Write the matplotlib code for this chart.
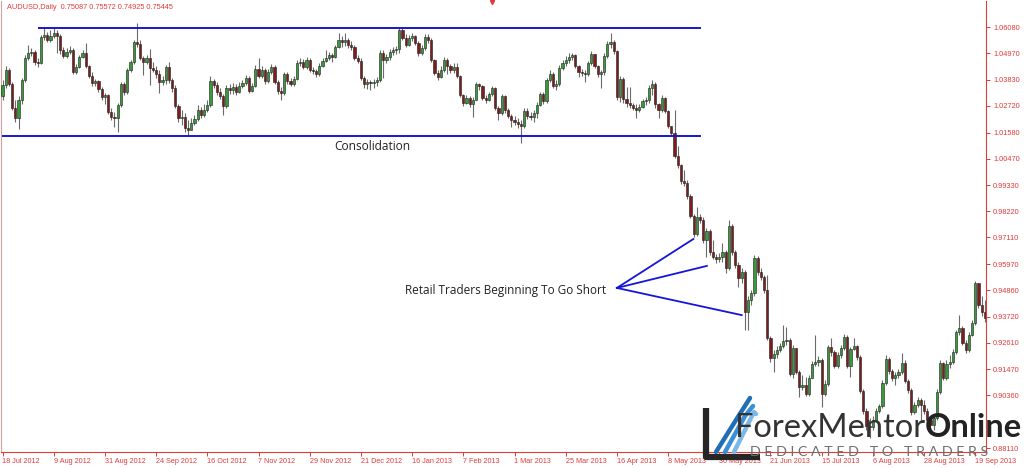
import matplotlib
matplotlib.use("Agg")
import matplotlib.pyplot as plt
import numpy as np

# AUDUSD daily, 18 Jul 2012 .. Sep 2013
first_open = 1.0315

closes = [
    1.0362, 1.0426, 1.0366, 1.0263, 1.0221, 1.0298, 1.0383, 1.0477, 1.0498, 1.0502,
    1.0460, 1.0455, 1.0567, 1.0575, 1.0554, 1.0571, 1.0584, 1.0571, 1.0511, 1.0485,
    1.0502, 1.0511, 1.0417, 1.0438, 1.0481, 1.0498, 1.0443, 1.0400, 1.0370, 1.0379,
    1.0344, 1.0310, 1.0319, 1.0246, 1.0225, 1.0221, 1.0276, 1.0366, 1.0332, 1.0426,
    1.0460, 1.0545, 1.0537, 1.0477, 1.0460, 1.0477, 1.0434, 1.0426, 1.0409, 1.0374,
    1.0383, 1.0438, 1.0383, 1.0349, 1.0272, 1.0221, 1.0225, 1.0178, 1.0169, 1.0199,
    1.0216, 1.0255, 1.0233, 1.0255, 1.0276, 1.0379, 1.0362, 1.0332, 1.0315, 1.0272,
    1.0349, 1.0340, 1.0353, 1.0332, 1.0357, 1.0370, 1.0391, 1.0336, 1.0357, 1.0430,
    1.0400, 1.0426, 1.0379, 1.0417, 1.0438, 1.0374, 1.0336, 1.0327, 1.0409, 1.0379,
    1.0366, 1.0387, 1.0455, 1.0460, 1.0438, 1.0468, 1.0426, 1.0421, 1.0409, 1.0443,
    1.0464, 1.0477, 1.0490, 1.0481, 1.0524, 1.0554, 1.0545, 1.0554, 1.0532, 1.0524,
    1.0477, 1.0464, 1.0391, 1.0366, 1.0374, 1.0370, 1.0374, 1.0383, 1.0498, 1.0468,
    1.0481, 1.0502, 1.0511, 1.0515, 1.0596, 1.0562, 1.0532, 1.0562, 1.0571, 1.0541,
    1.0498, 1.0520, 1.0567, 1.0554, 1.0468, 1.0413, 1.0396, 1.0426, 1.0468, 1.0443,
    1.0426, 1.0438, 1.0400, 1.0319, 1.0285, 1.0306, 1.0280, 1.0298, 1.0366, 1.0357,
    1.0306, 1.0298, 1.0323, 1.0349, 1.0263, 1.0242, 1.0315, 1.0255, 1.0229, 1.0212,
    1.0204, 1.0195, 1.0186, 1.0251, 1.0229, 1.0225, 1.0242, 1.0276, 1.0323, 1.0293,
    1.0383, 1.0409, 1.0357, 1.0366, 1.0434, 1.0455, 1.0468, 1.0481, 1.0490, 1.0443,
    1.0417, 1.0413, 1.0409, 1.0455, 1.0494, 1.0443, 1.0409, 1.0417, 1.0485, 1.0537,
    1.0545, 1.0507, 1.0310, 1.0387, 1.0302, 1.0285, 1.0276, 1.0263, 1.0255, 1.0268,
    1.0293, 1.0298, 1.0349, 1.0366, 1.0280, 1.0255, 1.0306, 1.0251, 1.0186, 1.0157,
    1.0058, 1.0020, 0.9952, 0.9943, 0.9888, 0.9802, 0.9725, 0.9798, 0.9785, 0.9700,
    0.9738, 0.9649, 0.9627, 0.9619, 0.9627, 0.9649, 0.9580, 0.9760, 0.9649, 0.9593,
    0.9537, 0.9563, 0.9392, 0.9444, 0.9473, 0.9623, 0.9563, 0.9542, 0.9486, 0.9281,
    0.9196, 0.9213, 0.9230, 0.9247, 0.9268, 0.9273, 0.9128, 0.9239, 0.9136, 0.9072,
    0.9081, 0.9042, 0.9110, 0.9170, 0.9179, 0.9187, 0.9042, 0.9085, 0.9243, 0.9222,
    0.9162, 0.9209, 0.9239, 0.9286, 0.9162, 0.9234, 0.9247, 0.9200, 0.9055, 0.8970,
    0.8906, 0.8901, 0.8931, 0.8970, 0.8991, 0.9089, 0.9192, 0.9140, 0.9110, 0.9123,
    0.9136, 0.9175, 0.9098, 0.9059, 0.8965, 0.8995, 0.9017, 0.8995, 0.8970, 0.8931,
    0.8910, 0.8940, 0.9051, 0.9175, 0.9110, 0.9170, 0.9179, 0.9222, 0.9307, 0.9324,
    0.9260, 0.9230, 0.9294, 0.9345, 0.9516, 0.9422, 0.9392, 0.9367,
]

highs = [
    1.0383, 1.0443, 1.0434, 1.0374, 1.0298, 1.0315, 1.0391, 1.0490, 1.0532, 1.0520,
    1.0511, 1.0477, 1.0575, 1.0609, 1.0588, 1.0596, 1.0609, 1.0596, 1.0579, 1.0524,
    1.0520, 1.0528, 1.0520, 1.0451, 1.0490, 1.0511, 1.0541, 1.0447, 1.0417, 1.0387,
    1.0383, 1.0353, 1.0327, 1.0323, 1.0263, 1.0246, 1.0285, 1.0374, 1.0374, 1.0434,
    1.0468, 1.0554, 1.0625, 1.0554, 1.0485, 1.0490, 1.0515, 1.0460, 1.0443, 1.0426,
    1.0400, 1.0447, 1.0460, 1.0391, 1.0362, 1.0280, 1.0255, 1.0242, 1.0212, 1.0221,
    1.0233, 1.0276, 1.0268, 1.0280, 1.0298, 1.0400, 1.0387, 1.0374, 1.0349, 1.0323,
    1.0362, 1.0366, 1.0370, 1.0366, 1.0374, 1.0383, 1.0404, 1.0400, 1.0370, 1.0447,
    1.0477, 1.0443, 1.0434, 1.0430, 1.0451, 1.0447, 1.0383, 1.0353, 1.0417, 1.0417,
    1.0391, 1.0400, 1.0468, 1.0477, 1.0473, 1.0481, 1.0477, 1.0438, 1.0430, 1.0455,
    1.0477, 1.0511, 1.0502, 1.0498, 1.0532, 1.0584, 1.0571, 1.0584, 1.0562, 1.0549,
    1.0532, 1.0490, 1.0477, 1.0400, 1.0387, 1.0383, 1.0387, 1.0396, 1.0511, 1.0511,
    1.0494, 1.0515, 1.0524, 1.0528, 1.0605, 1.0605, 1.0579, 1.0575, 1.0584, 1.0575,
    1.0549, 1.0532, 1.0579, 1.0579, 1.0562, 1.0473, 1.0426, 1.0443, 1.0481, 1.0477,
    1.0451, 1.0455, 1.0455, 1.0404, 1.0323, 1.0319, 1.0315, 1.0310, 1.0374, 1.0370,
    1.0362, 1.0319, 1.0332, 1.0357, 1.0353, 1.0272, 1.0323, 1.0319, 1.0263, 1.0238,
    1.0229, 1.0221, 1.0212, 1.0263, 1.0263, 1.0246, 1.0255, 1.0289, 1.0332, 1.0332,
    1.0391, 1.0426, 1.0417, 1.0383, 1.0447, 1.0468, 1.0485, 1.0498, 1.0498, 1.0494,
    1.0447, 1.0430, 1.0426, 1.0464, 1.0507, 1.0494, 1.0447, 1.0426, 1.0498, 1.0549,
    1.0584, 1.0554, 1.0511, 1.0400, 1.0396, 1.0353, 1.0353, 1.0285, 1.0280, 1.0280,
    1.0302, 1.0310, 1.0362, 1.0383, 1.0374, 1.0285, 1.0319, 1.0310, 1.0255, 1.0182,
    1.0255, 1.0101, 1.0024, 0.9999, 0.9956, 0.9896, 0.9811, 0.9841, 0.9811, 0.9798,
    0.9751, 0.9747, 0.9700, 0.9640, 0.9644, 0.9687, 0.9657, 0.9785, 0.9768, 0.9657,
    0.9606, 0.9580, 0.9572, 0.9461, 0.9486, 0.9636, 0.9631, 0.9580, 0.9550, 0.9550,
    0.9290, 0.9230, 0.9247, 0.9260, 0.9337, 0.9328, 0.9281, 0.9251, 0.9239, 0.9145,
    0.9123, 0.9115, 0.9123, 0.9183, 0.9294, 0.9204, 0.9196, 0.9102, 0.9251, 0.9281,
    0.9230, 0.9222, 0.9251, 0.9298, 0.9294, 0.9243, 0.9281, 0.9251, 0.9209, 0.9063,
    0.8982, 0.8940, 0.8948, 0.8982, 0.8999, 0.9102, 0.9209, 0.9200, 0.9149, 0.9136,
    0.9149, 0.9217, 0.9187, 0.9106, 0.9068, 0.9008, 0.9029, 0.9025, 0.9017, 0.8982,
    0.8944, 0.8952, 0.9063, 0.9187, 0.9179, 0.9187, 0.9209, 0.9234, 0.9315, 0.9379,
    0.9333, 0.9273, 0.9307, 0.9358, 0.9525, 0.9516, 0.9461, 0.9444,
]

lows = [
    1.0298, 1.0349, 1.0357, 1.0255, 1.0204, 1.0174, 1.0280, 1.0374, 1.0468, 1.0485,
    1.0447, 1.0438, 1.0451, 1.0554, 1.0545, 1.0545, 1.0562, 1.0498, 1.0494, 1.0477,
    1.0477, 1.0494, 1.0409, 1.0409, 1.0434, 1.0477, 1.0434, 1.0391, 1.0357, 1.0357,
    1.0332, 1.0298, 1.0280, 1.0238, 1.0212, 1.0182, 1.0161, 1.0268, 1.0319, 1.0323,
    1.0417, 1.0451, 1.0524, 1.0468, 1.0404, 1.0451, 1.0362, 1.0417, 1.0391, 1.0327,
    1.0362, 1.0366, 1.0370, 1.0332, 1.0263, 1.0204, 1.0191, 1.0161, 1.0148, 1.0169,
    1.0191, 1.0208, 1.0221, 1.0225, 1.0246, 1.0268, 1.0349, 1.0319, 1.0302, 1.0233,
    1.0263, 1.0323, 1.0323, 1.0319, 1.0327, 1.0349, 1.0362, 1.0327, 1.0332, 1.0353,
    1.0391, 1.0391, 1.0366, 1.0370, 1.0409, 1.0366, 1.0323, 1.0298, 1.0319, 1.0366,
    1.0357, 1.0357, 1.0383, 1.0443, 1.0430, 1.0430, 1.0417, 1.0409, 1.0396, 1.0400,
    1.0438, 1.0460, 1.0468, 1.0460, 1.0477, 1.0520, 1.0524, 1.0528, 1.0520, 1.0511,
    1.0468, 1.0455, 1.0383, 1.0349, 1.0344, 1.0340, 1.0349, 1.0357, 1.0374, 1.0391,
    1.0455, 1.0468, 1.0490, 1.0494, 1.0498, 1.0554, 1.0524, 1.0528, 1.0549, 1.0532,
    1.0485, 1.0490, 1.0511, 1.0541, 1.0460, 1.0404, 1.0383, 1.0391, 1.0417, 1.0409,
    1.0413, 1.0413, 1.0391, 1.0310, 1.0272, 1.0280, 1.0268, 1.0225, 1.0298, 1.0340,
    1.0298, 1.0285, 1.0293, 1.0315, 1.0255, 1.0212, 1.0233, 1.0242, 1.0221, 1.0182,
    1.0191, 1.0178, 1.0114, 1.0178, 1.0216, 1.0212, 1.0204, 1.0221, 1.0272, 1.0280,
    1.0285, 1.0374, 1.0349, 1.0340, 1.0357, 1.0426, 1.0443, 1.0455, 1.0468, 1.0434,
    1.0396, 1.0400, 1.0374, 1.0400, 1.0447, 1.0434, 1.0396, 1.0349, 1.0404, 1.0477,
    1.0520, 1.0494, 1.0298, 1.0289, 1.0285, 1.0268, 1.0263, 1.0255, 1.0221, 1.0246,
    1.0263, 1.0276, 1.0285, 1.0319, 1.0263, 1.0221, 1.0246, 1.0242, 1.0178, 1.0148,
    1.0050, 1.0007, 0.9939, 0.9930, 0.9875, 0.9794, 0.9713, 0.9717, 0.9772, 0.9687,
    0.9627, 0.9636, 0.9619, 0.9602, 0.9606, 0.9606, 0.9559, 0.9572, 0.9636, 0.9580,
    0.9499, 0.9516, 0.9315, 0.9315, 0.9422, 0.9461, 0.9550, 0.9529, 0.9473, 0.9273,
    0.9179, 0.9136, 0.9196, 0.9222, 0.9239, 0.9251, 0.9119, 0.9110, 0.9128, 0.9029,
    0.9059, 0.9034, 0.9034, 0.9110, 0.9162, 0.9162, 0.8987, 0.9034, 0.9076, 0.9204,
    0.9153, 0.9153, 0.9196, 0.9230, 0.9153, 0.9115, 0.9230, 0.9187, 0.9046, 0.8957,
    0.8888, 0.8854, 0.8888, 0.8931, 0.8961, 0.8982, 0.9081, 0.9128, 0.9098, 0.9081,
    0.9110, 0.9128, 0.9089, 0.9046, 0.8952, 0.8957, 0.8987, 0.8931, 0.8957, 0.8918,
    0.8880, 0.8888, 0.8931, 0.9042, 0.9102, 0.9102, 0.9153, 0.9170, 0.9213, 0.9294,
    0.9251, 0.9217, 0.9222, 0.9290, 0.9337, 0.9409, 0.9375, 0.9350,
]

date_labels = ["18 Jul 2012", "9 Aug 2012", "31 Aug 2012", "24 Sep 2012", "16 Oct 2012",
               "7 Nov 2012", "29 Nov 2012", "21 Dec 2012", "16 Jan 2013", "7 Feb 2013",
               "1 Mar 2013", "25 Mar 2013", "16 Apr 2013", "8 May 2013", "30 May 2013",
               "21 Jun 2013", "15 Jul 2013", "6 Aug 2013", "28 Aug 2013", "19 Sep 2013"]
price_ticks = [1.06080, 1.04970, 1.03830, 1.02720, 1.01580, 1.00470, 0.99330, 0.98220,
               0.97110, 0.95970, 0.94860, 0.93720, 0.92610, 0.91470, 0.90360, 0.88110]

range_top = 1.0605
range_bottom = 1.0144
range_end = 218

# retail shorts: text anchor and three pointer targets (bar, price)
note_start = (192.0, 0.9495)
note_targets = [(215.9, 0.9704), (220.1, 0.9589), (231.0, 0.9379)]

RED = "#e23a3a"
BLUE = "#1515d8"
UP = "#3a9a3a"
DOWN = "#7d1d1d"

closes = np.array(closes)
opens = np.concatenate([[first_open], closes[:-1]])
highs = np.maximum(np.array(highs), np.maximum(opens, closes))
lows = np.minimum(np.array(lows), np.minimum(opens, closes))
idx = np.arange(len(closes))

fig = plt.figure(figsize=(10.24, 4.68), dpi=100)
ax = fig.add_axes([1 / 1024, 16 / 468, 985 / 1024, 451 / 468])
ax.set_xlim((1 - 2.5) / 3.2, (986 - 2.5) / 3.2)
ax.set_ylim(1.07245 - 0.000427 * 452, 1.07245 - 0.000427 * 1)

# wicks then bodies
ax.vlines(idx, lows, highs, color="#6a6a6a", linewidth=0.8, zorder=2)
up = closes >= opens
body_lo = np.minimum(opens, closes)
body_h = np.maximum(np.abs(closes - opens), 0.00025)
ax.bar(idx[up], body_h[up], bottom=body_lo[up], width=0.72, color=UP,
       edgecolor="#1e1e1e", linewidth=0.4, zorder=3)
ax.bar(idx[~up], body_h[~up], bottom=body_lo[~up], width=0.72, color=DOWN,
       edgecolor="#1e1e1e", linewidth=0.4, zorder=3)

# consolidation box lines
ax.plot([11.4, range_end], [range_top, range_top], color=BLUE, lw=1.4, zorder=4)
ax.plot([0.2, range_end], [range_bottom, range_bottom], color=BLUE, lw=1.4, zorder=4)
ax.text(115.5, 1.0101, "Consolidation", ha="center", va="center",
        fontsize=8.6, family="Open Sans", color="#222222")

for tx, ty in note_targets:
    ax.plot([note_start[0], tx], [note_start[1], ty], color=BLUE, lw=1.3, zorder=4)
ax.text(188.6, 0.9486, "Retail Traders Beginning To Go Short", ha="right", va="center",
        fontsize=8.5, family="Open Sans", color="#222222")

# axes styling, MT4 look
ax.spines["top"].set_visible(False)
for s in ["left", "right", "bottom"]:
    ax.spines[s].set_color(RED)
    ax.spines[s].set_linewidth(0.8)
ax.spines["left"].set_color("#d9a0a0")

ax.set_xticks(np.arange(len(date_labels)) * 16)
ax.set_xticklabels(date_labels)
for lbl in ax.get_xticklabels():
    lbl.set_ha("left")
ax.tick_params(axis="x", colors=RED, length=3, width=0.7, pad=1.5, labelsize=5.2)

ax.yaxis.tick_right()
ax.set_yticks(price_ticks)
ax.set_yticklabels([f"{v:.5f}" for v in price_ticks])
ax.tick_params(axis="y", colors=RED, length=3, width=0.7, pad=2, labelsize=5.3)
for lbl in ax.get_xticklabels() + ax.get_yticklabels():
    lbl.set_family("Liberation Sans")

ax.text(0.006, 0.985, "AUDUSD,Daily  0.75087 0.75572 0.74925 0.75445", transform=ax.transAxes,
        ha="left", va="center", fontsize=5.3, family="Liberation Sans", color=RED)
ax.plot([0.4985], [0.997], marker="v", color=RED, markersize=3, transform=ax.transAxes,
        clip_on=False, zorder=5)

# watermark logo, drawn in figure pixels
ov = fig.add_axes([0, 0, 1, 1], facecolor="none")
ov.set_xlim(0, 1024)
ov.set_ylim(468, 0)
ov.axis("off")
ov.plot([706, 706, 760], [408, 457, 457], color="#262626", lw=4.5, solid_capstyle="butt")
for k, c in enumerate(["#1f6fb5", "#3b8fd6", "#7ab8ea"]):
    ov.plot([716 + 9 * k, 736 + 9 * k, 750 + 3 * k], [452, 420 - 4 * k, 398 + 8 * k],
            color=c, lw=3.2, solid_capstyle="round")
t1 = ov.text(735, 437, "ForexMentor", fontsize=23.5, family="Lato", color="#333333",
             ha="left", va="baseline")
fig.canvas.draw()
bb = t1.get_window_extent()
ov.text(bb.x1, 437, "Online", fontsize=23.5, family="Lato", fontweight="bold",
        color="#222222", ha="left", va="baseline")
ov.text(869, 452, "D E D I C A T E D   T O   T R A D E R S", fontsize=10.3, family="Lato",
        color="#6e6e6e", ha="center", va="center")

fig.savefig("out.png", dpi=100, facecolor="white")
